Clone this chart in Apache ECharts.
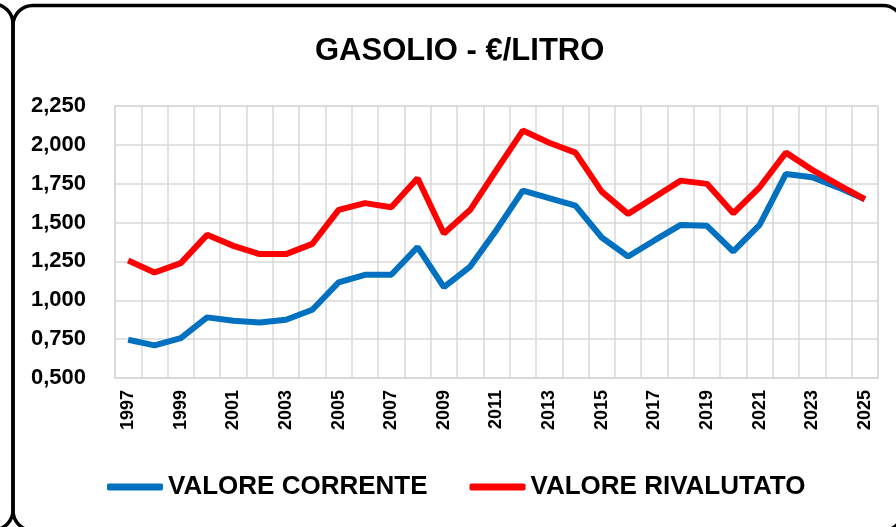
<!DOCTYPE html>
<html>
<head>
<meta charset="utf-8">
<title>Gasolio</title>
<script src="https://cdn.jsdelivr.net/npm/echarts@6/dist/echarts.min.js"></script>
<style>
  html, body { margin: 0; padding: 0; background: #fff; }
  #chart1 { width: 896px; height: 527px; }
</style>
</head>
<body>
<div id="chart1"></div>
<script>
  // anni
  var anni = ["1997", "1998", "1999", "2000", "2001", "2002", "2003", "2004", "2005", "2006",
    "2007", "2008", "2009", "2010", "2011", "2012", "2013", "2014", "2015", "2016",
    "2017", "2018", "2019", "2020", "2021", "2022", "2023", "2024", "2025"];
  // €/litro
  var valoreCorrente = [0.746, 0.710, 0.757, 0.890, 0.868, 0.857, 0.875, 0.939, 1.115, 1.164,
    1.164, 1.342, 1.085, 1.217, 1.453, 1.706, 1.657, 1.609, 1.404, 1.282,
    1.385, 1.485, 1.479, 1.314, 1.485, 1.813, 1.792, 1.725, 1.650];
  var valoreRivalutato = [1.256, 1.179, 1.239, 1.421, 1.350, 1.297, 1.297, 1.363, 1.582, 1.625,
    1.599, 1.785, 1.430, 1.582, 1.839, 2.092, 2.014, 1.950, 1.699, 1.556,
    1.663, 1.770, 1.749, 1.560, 1.727, 1.950, 1.839, 1.742, 1.650];
  var yMin = 0.5, yMax = 2.25, yStep = 0.25;

  var font = "'Liberation Sans', Arial, sans-serif";
  var chart = echarts.init(document.getElementById("chart1"));

  chart.setOption({
    animation: false,
    title: {
      text: "GASOLIO - €/LITRO",
      left: 315,
      top: 36,
      padding: 0,
      textStyle: { fontFamily: font, fontSize: 31, fontWeight: "bold", color: "#000" }
    },
    legend: {
      left: 107,
      top: 474,
      padding: 0,
      itemGap: 42,
      itemWidth: 56,
      itemHeight: 7,
      icon: "roundRect",
      textStyle: { fontFamily: font, fontSize: 26, fontWeight: "bold", color: "#000" },
      data: ["VALORE CORRENTE", "VALORE RIVALUTATO"]
    },
    grid: {
      left: 115,
      right: 18,
      top: 106,
      bottom: 149,
      show: true,
      borderColor: "#d9d9d9",
      borderWidth: 1.5
    },
    xAxis: {
      type: "category",
      boundaryGap: true,
      data: anni,
      axisLine: { lineStyle: { color: "#d9d9d9", width: 1.5 } },
      axisTick: { show: false },
      splitLine: { show: true, interval: 0, lineStyle: { color: "#d9d9d9", width: 1.5 } },
      axisLabel: {
        interval: 1,
        rotate: 90,
        margin: 12,
        fontFamily: font,
        fontSize: 18,
        fontWeight: "bold",
        color: "#000"
      }
    },
    yAxis: {
      type: "value",
      min: yMin,
      max: yMax,
      interval: yStep,
      axisLine: { show: false },
      axisTick: { show: false },
      splitLine: { lineStyle: { color: "#d9d9d9", width: 1.5 } },
      axisLabel: {
        margin: 29,
        fontFamily: font,
        fontSize: 22,
        fontWeight: "bold",
        color: "#000",
        formatter: function (v) {
          return v.toFixed(3).replace(".", ",");
        }
      }
    },
    series: [
      {
        name: "VALORE CORRENTE",
        type: "line",
        data: valoreCorrente,
        symbol: "none",
        color: "#0070c0",
        lineStyle: { width: 6, color: "#0070c0" }
      },
      {
        name: "VALORE RIVALUTATO",
        type: "line",
        data: valoreRivalutato,
        symbol: "none",
        color: "#ff0000",
        lineStyle: { width: 6, color: "#ff0000" }
      }
    ],
    graphic: [
      {
        type: "rect",
        shape: { x: -880, y: 4, width: 893, height: 526, r: 20 },
        style: { fill: "none", stroke: "#000", lineWidth: 3.5 }
      },
      {
        type: "rect",
        shape: { x: 13, y: 5.5, width: 890, height: 525, r: 20 },
        style: { fill: "none", stroke: "#000", lineWidth: 3.5 }
      }
    ]
  });
</script>
</body>
</html>
